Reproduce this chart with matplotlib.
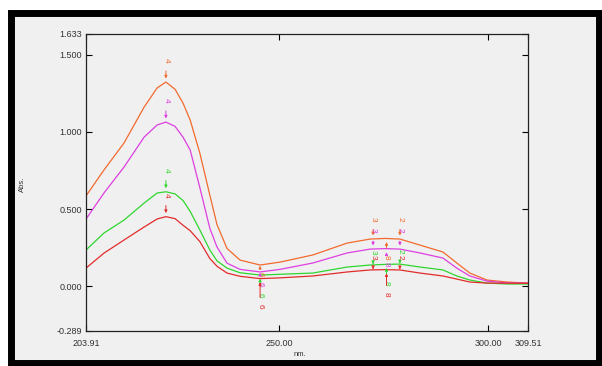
import numpy as np
import matplotlib
matplotlib.use("Agg")
import matplotlib.pyplot as plt
from matplotlib.patches import Rectangle

plt.rcParams['font.family'] = ['Liberation Sans', 'DejaVu Sans']

# wavelength grid (nm)
wl = [203.91, 208.2, 213.0, 217.8, 220.9, 223.0, 225.2, 227.1, 228.8, 231.1,
      233.5, 235.2, 237.6, 240.7, 245.5, 250.3, 258.1, 266.3, 271.8, 275.4,
      278.9, 283.7, 289.2, 292.5, 295.6, 299.7, 304.5, 309.51]

abs_orange = [0.585, 0.753, 0.928, 1.160, 1.284, 1.322, 1.275, 1.185, 1.076, 0.863,
              0.590, 0.400, 0.245, 0.170, 0.138, 0.157, 0.203, 0.280, 0.306, 0.310,
              0.306, 0.267, 0.222, 0.151, 0.086, 0.041, 0.028, 0.021]
abs_magenta = [0.435, 0.604, 0.772, 0.966, 1.044, 1.063, 1.035, 0.965, 0.882, 0.640,
               0.375, 0.255, 0.150, 0.110, 0.093, 0.110, 0.151, 0.216, 0.241, 0.244,
               0.241, 0.216, 0.183, 0.118, 0.067, 0.034, 0.022, 0.021]
abs_green = [0.235, 0.345, 0.429, 0.539, 0.604, 0.612, 0.598, 0.555, 0.485, 0.365,
             0.235, 0.165, 0.118, 0.088, 0.073, 0.078, 0.086, 0.125, 0.138, 0.142,
             0.144, 0.125, 0.106, 0.067, 0.041, 0.021, 0.015, 0.015]
abs_red = [0.118, 0.215, 0.300, 0.384, 0.436, 0.451, 0.438, 0.395, 0.360, 0.290,
           0.180, 0.130, 0.086, 0.065, 0.050, 0.055, 0.067, 0.093, 0.106, 0.108,
           0.106, 0.086, 0.067, 0.047, 0.028, 0.021, 0.020, 0.020]

# peak / valley picks
peak_wl = [223.0, 272.5, 278.9]
peak_lab = ['4', '3', '2']
valley_wl = [245.5, 275.7]
valley_lab = ['6', '8']

xticks = [203.91, 250.00, 300.00, 309.51]
yticks = [-0.289, 0.000, 0.500, 1.000, 1.500, 1.633]

series = [
    (abs_orange, '#f26a2e', 0.13, (0.06, 0.12)),
    (abs_magenta, '#dd3fe0', 0.12, (0.08, 0.10)),
    (abs_green, '#2fd62f', 0.08, (0.13, 0.12)),
    (abs_red, '#e32b2b', 0.08, (0.18, 0.16)),
]

fig = plt.figure(figsize=(6.02, 3.66), dpi=100)
fig.patch.set_facecolor('white')
# black frame round the panel
fig.patches.append(Rectangle((10.5 / 602, 3 / 366), 588.5 / 602, 350.5 / 366,
                             transform=fig.transFigure, facecolor='#f0f0f0',
                             edgecolor='black', linewidth=5.0, zorder=-5))

ax = fig.add_axes([86 / 602, 35 / 366, 442 / 602, 297 / 366])
ax.set_zorder(2)
ax.set_facecolor('#f0f0f0')

for vals, col, poff, voffs in series:
    ax.plot(wl, vals, color=col, lw=0.9)
    for i, (w, lab) in enumerate(zip(peak_wl, peak_lab)):
        v = np.interp(w, wl, vals)
        off = 0.14 if i == 0 else poff
        ax.annotate('', xy=(w, v + 0.005), xytext=(w, v + off - 0.05),
                    arrowprops=dict(arrowstyle='-|>', color=col, lw=0.7,
                                    mutation_scale=4))
        ax.text(w, v + off, lab, color=col, fontsize=6, rotation=-90,
                ha='center', va='center')
    for w, lab, off in zip(valley_wl, valley_lab, voffs):
        v = np.interp(w, wl, vals)
        ax.annotate('', xy=(w, v - 0.005), xytext=(w, v - off + 0.04),
                    arrowprops=dict(arrowstyle='-|>', color=col, lw=0.7,
                                    mutation_scale=4))
        ax.text(w, v - off, lab, color=col, fontsize=6, rotation=-90,
                ha='center', va='center')

ax.set_xlim(203.91, 309.51)
ax.set_ylim(-0.289, 1.633)
ax.set_xticks(xticks)
ax.set_xticklabels(['%.2f' % t for t in xticks])
ax.set_yticks(yticks)
ax.set_yticklabels(['%.3f' % t for t in yticks])
ax.tick_params(direction='in', length=4, width=0.8, labelsize=6.5,
               labelcolor='#333333', top=True, right=True)
ax.tick_params(axis='x', pad=6)
ax.tick_params(axis='y', pad=3)
for s in ax.spines.values():
    s.set_linewidth(0.9)
    s.set_color('#222222')

fig.text(22 / 602, 1 - 184 / 366, 'Abs.', rotation=90, fontsize=5.5,
         color='#333333', ha='center', va='center')
fig.text(300 / 602, 1 - 354 / 366, 'nm.', fontsize=5.5, color='#333333',
         ha='center', va='center')

fig.savefig('out.png', dpi=100)
